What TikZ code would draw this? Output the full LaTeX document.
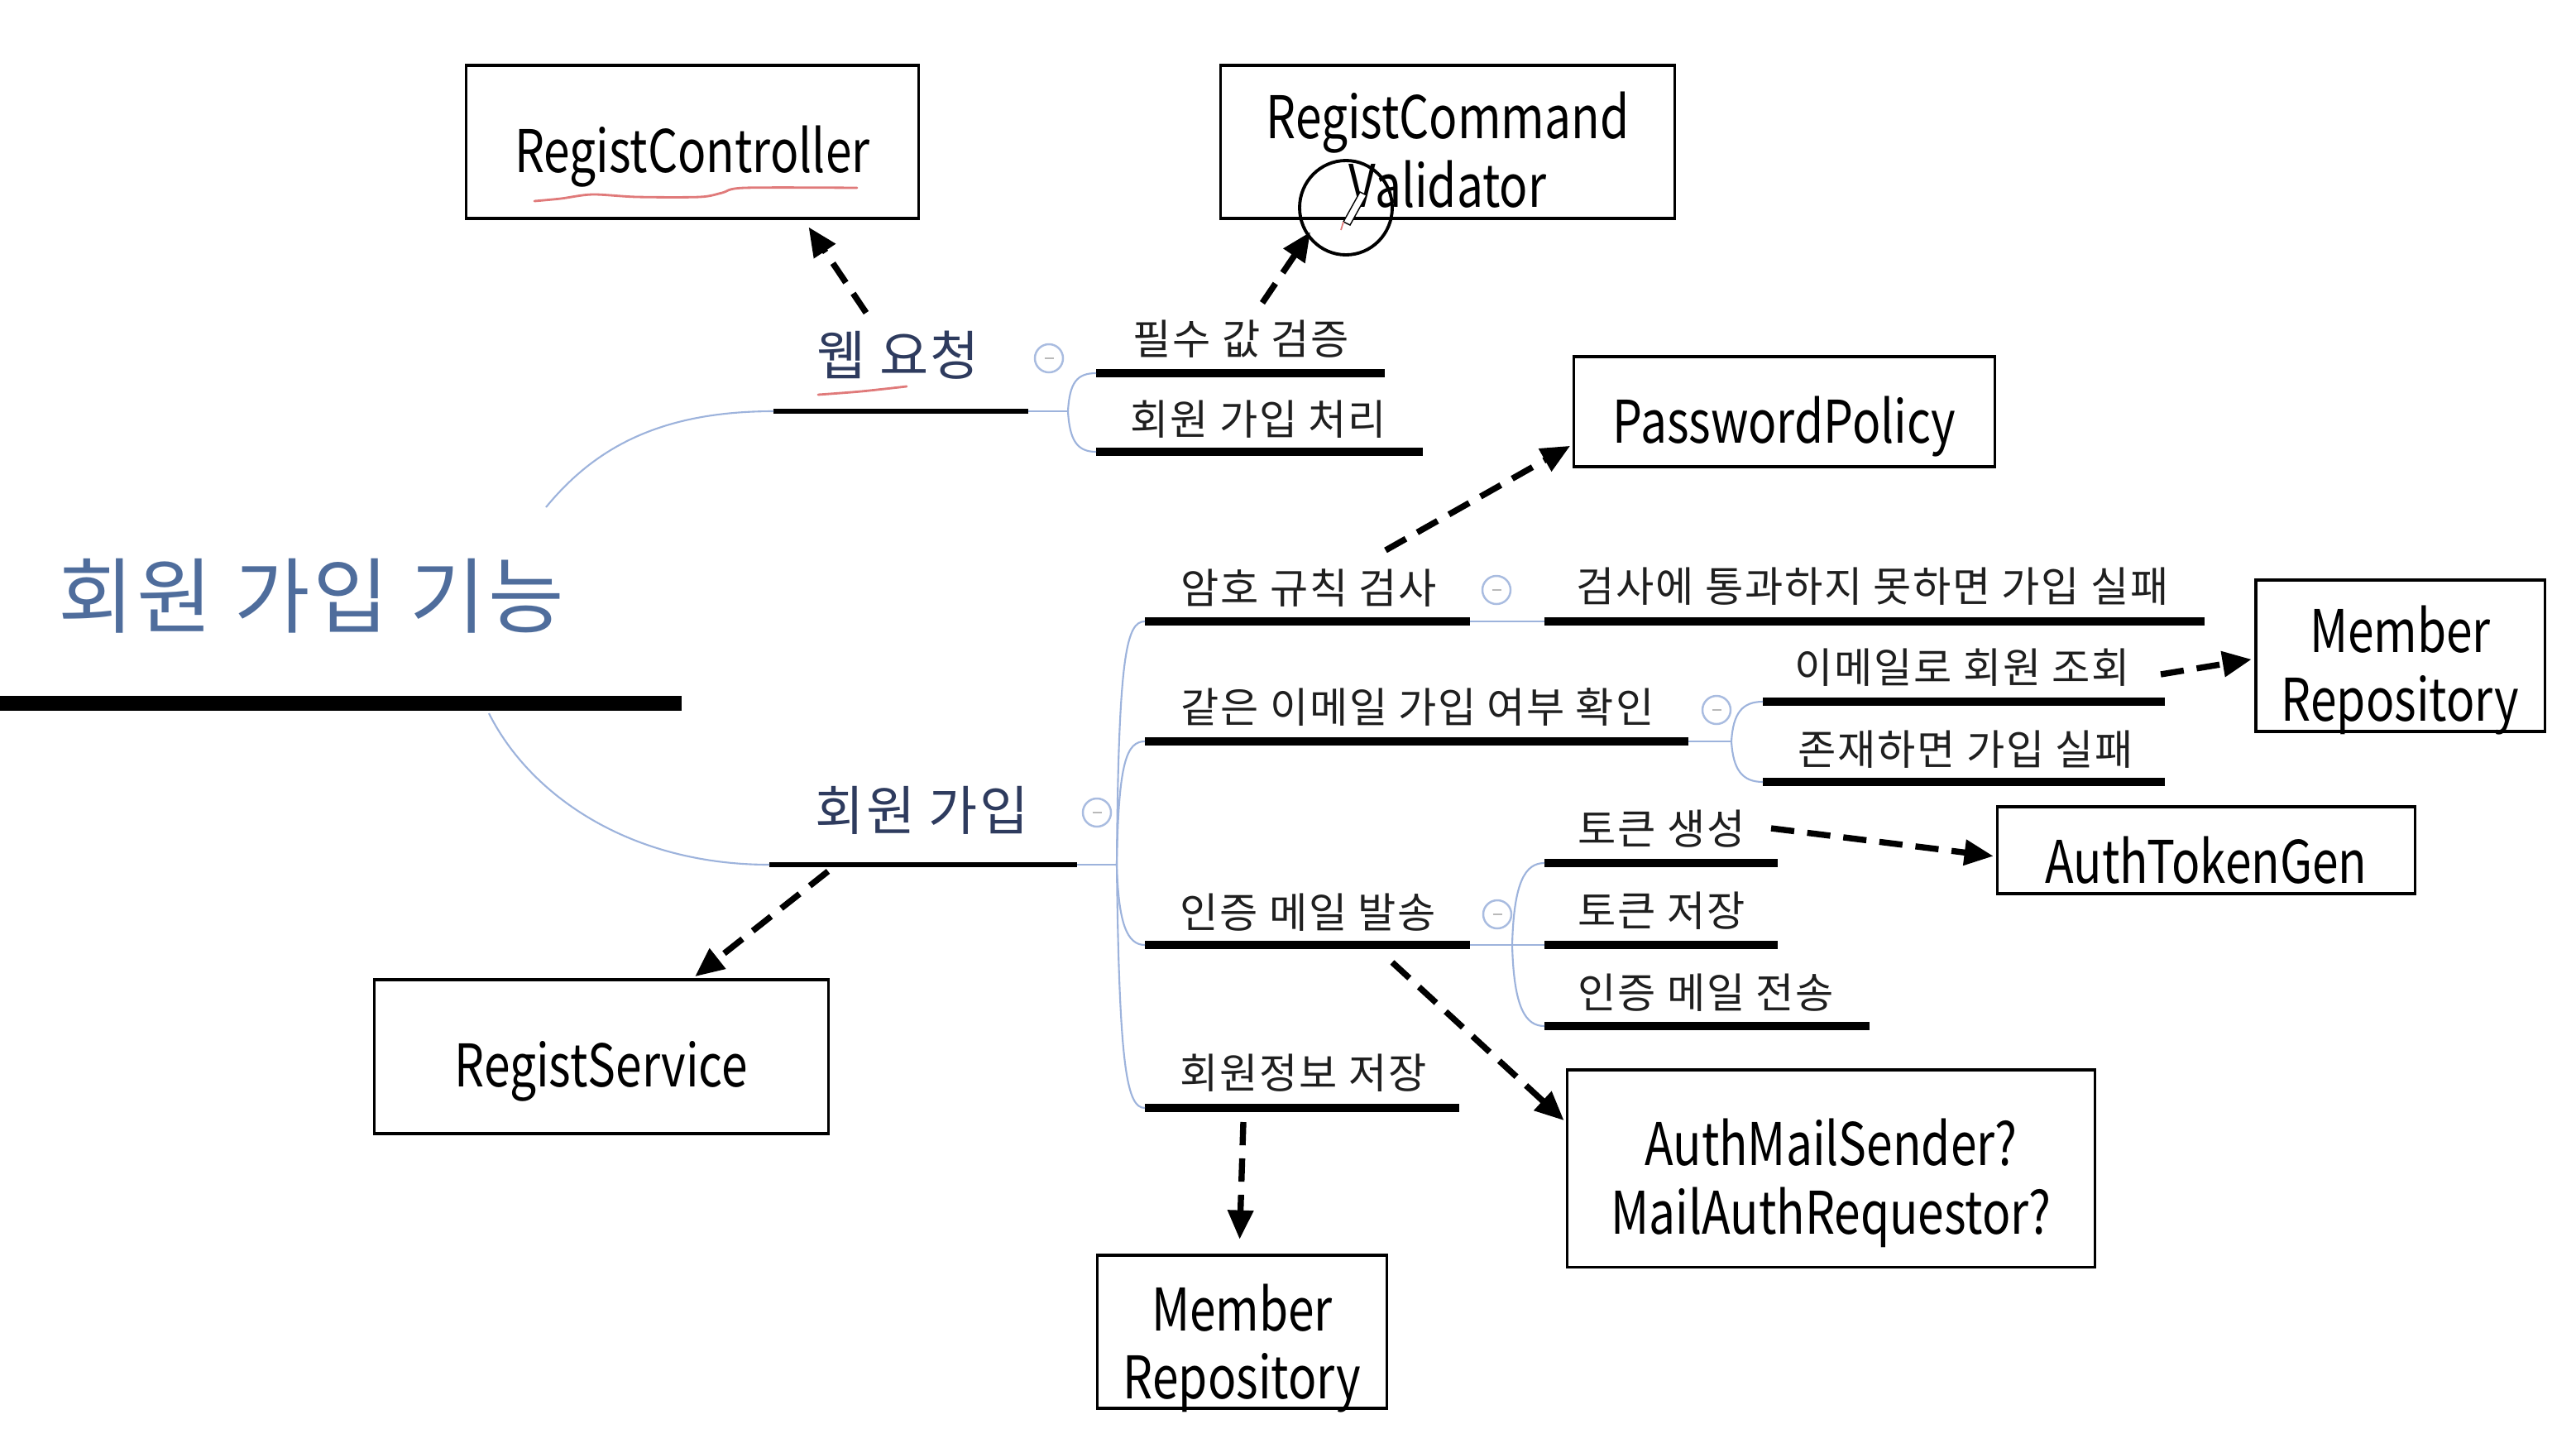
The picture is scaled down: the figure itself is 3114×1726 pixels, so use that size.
\documentclass[tikz,border=0pt]{standalone}
\usepackage{fontspec}
\setmainfont{Noto Sans CJK KR}
\newfontfamily\boxfont[FakeStretch=0.8]{Noto Sans CJK KR}
\newfontfamily\krls[LetterSpace=3.5]{Noto Sans CJK KR}
\usetikzlibrary{arrows.meta,calc}
\definecolor{titleblue}{HTML}{4F6D9C}
\definecolor{lonenavy}{HTML}{2E3B5E}
\definecolor{branchblue}{HTML}{9DB3DC}
\definecolor{markblue}{HTML}{A9BCE0}
\definecolor{penred}{HTML}{E07A7A}
\tikzset{
  bx/.style={draw, line width=0.9pt, inner sep=0pt},
  bxtext/.style={inner sep=0pt, align=center,
    font=\boxfont\fontsize{20.2pt}{23.6pt}\selectfont},
  lvlzero/.style={anchor=base west, inner sep=0pt, text=titleblue,
    font=\krls\fontsize{28.3pt}{31pt}\selectfont},
  lvlone/.style={anchor=base west, inner sep=0pt, text=lonenavy,
    font=\krls\fontsize{18.3pt}{21pt}\selectfont},
  lvltwo/.style={anchor=base west, inner sep=0pt, text=black!88,
    font=\krls\fontsize{14.3pt}{16pt}\selectfont},
  mainbar/.style={line width=5.1pt},
  onebar/.style={line width=1.9pt},
  twobar/.style={line width=2.8pt},
  bline/.style={draw=branchblue, line width=0.6pt},
  cmark/.style={circle, draw=markblue, line width=0.7pt, fill=white,
    minimum size=0.34cm, inner sep=0pt,
    path picture={\draw[gray!55, line width=0.6pt]
      ([xshift=-0.055cm]path picture bounding box.center) --
      ([xshift=0.055cm]path picture bounding box.center);}},
  darrow/.style={line width=2.1pt, dash pattern=on 8pt off 4.5pt,
    -{Triangle[length=10pt,width=8.5pt]}, shorten >=1pt},
  redmark/.style={penred, line width=0.8pt, line cap=round, line join=round}
}
\begin{document}
\begin{tikzpicture}[x=0.01cm, y=-0.01cm]
\fill[white] (0,0) rectangle (3114,1726);
\useasboundingbox (0,0) rectangle (3114,1726);

% ---------- boxes ----------
\node[bx, minimum width=5.46cm, minimum height=1.85cm] (rc)  at (837,171.5) {};
\node[bx, minimum width=5.48cm, minimum height=1.85cm] (rcv) at (1750,171.5) {};
\node[bx, minimum width=5.08cm, minimum height=1.33cm] (pp)  at (2157,497.5) {};
\node[bx, minimum width=3.49cm, minimum height=1.83cm] (mrr) at (2901.5,792.5) {};
\node[bx, minimum width=5.04cm, minimum height=1.05cm] (atg) at (2667,1027.5) {};
\node[bx, minimum width=5.48cm, minimum height=1.86cm] (rs)  at (727,1277) {};
\node[bx, minimum width=6.37cm, minimum height=2.38cm] (ams) at (2213.5,1412) {};
\node[bx, minimum width=3.49cm, minimum height=1.85cm] (mrb) at (1501.5,1609.5) {};
\node[bxtext] (rct)  at ([yshift=-0.18cm]rc.center)  {RegistController};
\node[bxtext] (rcvt) at ([yshift=-0.10cm]rcv.center) {RegistCommand\\Validator};
\node[bxtext] (ppt)  at ([yshift=-0.18cm]pp.center)  {PasswordPolicy};
\node[bxtext] (mrrt) at ([yshift=-0.18cm]mrr.center) {Member\\Repository};
\node[bxtext] (atgt) at ([yshift=-0.12cm]atg.center) {AuthTokenGen};
\node[bxtext] (rst)  at ([yshift=-0.18cm]rs.center)  {RegistService};
\node[bxtext] (amst) at ([yshift=-0.18cm]ams.center) {AuthMailSender?\\MailAuthRequestor?};
\node[bxtext] (mrbt) at ([yshift=-0.20cm]mrb.center) {Member\\Repository};

% ---------- mind map text ----------
\node[lvlzero] (n0)  at (70,757)    {회원 가입 기능};
\node[lvlone]  (n1)  at (987,453)   {웹 요청};
\node[lvltwo]  (n11) at (1369,428)  {필수 값 검증};
\node[lvltwo]  (n12) at (1366,525)  {회원 가입 처리};
\node[lvlone]  (n2)  at (985,1003)  {회원 가입};
\node[lvltwo]  (n21) at (1427,729)  {암호 규칙 검사};
\node[lvltwo]  (n211) at (1905,727) {검사에 통과하지 못하면 가입 실패};
\node[lvltwo]  (n22) at (1427,873)  {같은 이메일 가입 여부 확인};
\node[lvltwo]  (n221) at (2169,825) {이메일로 회원 조회};
\node[lvltwo]  (n222) at (2173,924) {존재하면 가입 실패};
\node[lvltwo]  (n23) at (1426,1121) {인증 메일 발송};
\node[lvltwo]  (n231) at (1907,1020) {토큰 생성};
\node[lvltwo]  (n232) at (1907,1119) {토큰 저장};
\node[lvltwo]  (n233) at (1907,1218) {인증 메일 전송};
\node[lvltwo]  (n24) at (1426,1315) {회원정보 저장};

% ---------- bars ----------
\draw[mainbar] (0,850) -- (824,850);
\draw[onebar] (935,497) -- (1243,497);
\draw[twobar] (1325,451) -- (1674,451);
\draw[twobar] (1325,546) -- (1720,546);
\draw[onebar] (930,1045) -- (1302,1045);
\draw[twobar] (1384,751) -- (1777,751);
\draw[twobar] (1867,751) -- (2665,751);
\draw[twobar] (1384,896) -- (2041,896);
\draw[twobar] (2131,848) -- (2617,848);
\draw[twobar] (2131,945) -- (2617,945);
\draw[twobar] (1867,1043) -- (2149,1043);
\draw[twobar] (1867,1142) -- (2149,1142);
\draw[twobar] (1867,1240) -- (2260,1240);
\draw[twobar] (1384,1142) -- (1777,1142);
\draw[twobar] (1384,1339) -- (1764,1339);

% ---------- branch lines ----------
\draw[bline] (660,613) .. controls (720,540) and (800,497) .. (935,497);
\draw[bline] (591,862) .. controls (640,960) and (760,1045) .. (930,1045);
\draw[bline] (1243,497) -- (1291,497);
\draw[bline] (1291,497) .. controls (1293,462) and (1302,451) .. (1325,451);
\draw[bline] (1291,497) .. controls (1293,532) and (1302,546) .. (1325,546);
\draw[bline] (1302,1045) -- (1350,1045);
\draw[bline] (1350,1045) .. controls (1352,790) and (1362,751) .. (1384,751);
\draw[bline] (1350,1045) .. controls (1352,920) and (1362,896) .. (1384,896);
\draw[bline] (1350,1045) .. controls (1352,1115) and (1362,1142) .. (1384,1142);
\draw[bline] (1350,1045) .. controls (1353,1290) and (1362,1339) .. (1384,1339);
\draw[bline] (1777,751) -- (1867,751);
\draw[bline] (2041,896) -- (2093,896);
\draw[bline] (2093,896) .. controls (2095,862) and (2106,848) .. (2131,848);
\draw[bline] (2093,896) .. controls (2095,930) and (2106,945) .. (2131,945);
\draw[bline] (1777,1142) -- (1867,1142);
\draw[bline] (1828,1142) .. controls (1830,1065) and (1844,1043) .. (1867,1043);
\draw[bline] (1828,1142) .. controls (1830,1218) and (1844,1240) .. (1867,1240);

% ---------- collapse markers ----------
\node[cmark] (m1) at (1268,433) {};
\node[cmark] (m2) at (1326,982) {};
\node[cmark] (m21) at (1809,713) {};
\node[cmark] (m22) at (2075,858) {};
\node[cmark] (m23) at (1810,1105) {};

% ---------- dashed arrows ----------
\coordinate (s1) at (1047,378);
\coordinate (s2) at (1526,366);
\coordinate (s3) at (1675,665);
\coordinate (s4) at (2612,815);
\coordinate (s5) at (2141,1001);
\coordinate (s6) at (1683,1163);
\coordinate (s7) at (1503,1356);
\coordinate (s8) at (1001,1053);
\draw[darrow, shorten >=3pt] (s1) -- ($(rc.south west)!0.745!(rc.south east)$);
\draw[darrow, shorten >=5pt] (s2) -- ($(rcv.south west)!0.217!(rcv.south east)$);
\draw[darrow] (s3) -- ($(pp.north west)!0.79!(pp.south west)$);
\draw[darrow] (s4) -- ($(mrr.north west)!0.52!(mrr.south west)$);
\draw[darrow] (s5) -- ($(atg.north west)!0.57!(atg.south west)$);
\draw[darrow] (s6) -- ($(ams.north west)!0.27!(ams.south west)$);
\draw[darrow, shorten >=5pt] (s7) -- ($(mrb.north west)!0.49!(mrb.north east)$);
\draw[darrow] (s8) -- ($(rs.north west)!0.70!(rs.north east)$);

% ---------- hand annotations ----------
\draw[redmark] plot[smooth] coordinates {(646,243) (678,240) (716,235) (770,238) (846,238) (873,233) (900,227) (1036,227)};
\draw[redmark] plot[smooth] coordinates {(989,477) (1041,473) (1096,467)};
\draw[line width=1.1pt] (1627,251) ellipse [x radius=56, y radius=57];
\draw[line width=0.4pt, fill=white] (1624,268) -- (1644,232) -- (1652,236) -- (1632,272) -- cycle;
\draw[penred, line width=0.5pt] (1624,268) -- (1621,278);
\end{tikzpicture}
\end{document}
